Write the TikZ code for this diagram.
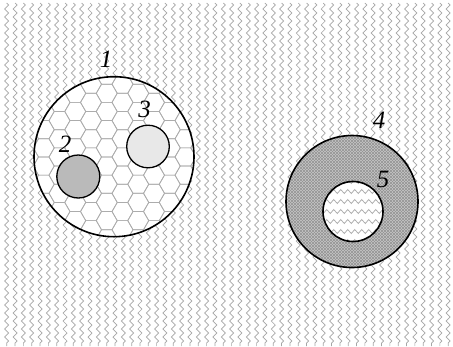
\documentclass[tikz,border=0pt]{standalone}
\usepackage{fontspec}
\setmainfont{Liberation Serif}
\usetikzlibrary{decorations.pathmorphing}
\begin{document}
\begin{tikzpicture}[x=1bp,y=-1bp,
  bgzig/.style={draw=gray!70, line width=0.7bp, decorate, decoration={zigzag, segment length=8bp, amplitude=2bp}},
  hzig/.style={draw=gray!70, line width=0.7bp, decorate, decoration={zigzag, segment length=7bp, amplitude=2bp}},
  hexline/.style={draw=gray!65, line width=0.7bp},
  hatch/.style={draw=gray!85, line width=0.5bp},
  lab/.style={font=\fontsize{25}{25}\selectfont\itshape, inner sep=0pt},
  rim/.style={draw=black, line width=1.6bp},
  smallrim/.style={draw=black, line width=1.3bp}]
\useasboundingbox (0,0) rectangle (453,346);
\fill[white] (0,0) rectangle (453,346);
% background zigzags
\foreach \i in {0,...,53}
  \draw[bgzig] ({6.7+8.33*\i},3) -- ({6.7+8.33*\i},346);
% circle 1 with honeycomb
\coordinate (c1) at (114,156.7);
\fill[white] (c1) circle[radius=80bp];
\begin{scope}
  \clip (c1) circle[radius=80bp];
  \foreach \i in {0,...,12}
    \foreach \j in {-1,...,11} {
      \pgfmathsetmacro\hx{28+15.75*\i}
      \pgfmathsetmacro\hy{66+18.19*\j+9.09*mod(\i,2)}
      \draw[hexline] (\hx,\hy) ++(10.5,0) -- ++(-5.25,9.09) -- ++(-10.5,0) -- ++(-5.25,-9.09) -- ++(5.25,-9.09) -- ++(10.5,0) -- cycle;
    }
\end{scope}
\draw[rim] (c1) circle[radius=80bp];
% circle 2 and 3
\node[circle, smallrim, fill=black!27, minimum size=43bp, inner sep=0pt] (c2) at (78.3,176.5) {};
\node[circle, smallrim, fill=black!9, minimum size=42.6bp, inner sep=0pt] (c3) at (148,146.5) {};
% ring 4
\coordinate (c4) at (352,201.5);
\coordinate (c5) at (353,211.5);
\fill[black!22, even odd rule] (c4) circle[radius=66bp] (c5) circle[radius=30bp];
\begin{scope}[even odd rule]
  \clip (c4) circle[radius=66bp] (c5) circle[radius=30bp];
  \foreach \k in {-50,...,50} {
    \draw[hatch] ({352+3*\k-80},121) -- ({352+3*\k+80},281);
    \draw[hatch] ({352+3*\k+80},121) -- ({352+3*\k-80},281);
  }
\end{scope}
\fill[white] (c5) circle[radius=30bp];
\begin{scope}
  \clip (c5) circle[radius=30bp];
  \foreach \r in {-3,...,3}
    \draw[hzig] (318,{211.5+10*\r}) -- (390,{211.5+10*\r});
\end{scope}
\draw[rim] (c4) circle[radius=66bp];
\draw[rim] (c5) circle[radius=30bp];
% labels
\node[lab] (l1) at (106,59) {1};
\node[lab] (l2) at (65,144) {2};
\node[lab] (l3) at (144.5,109.5) {3};
\node[lab] (l4) at (379,120) {4};
\node[lab] (l5) at (383,179.5) {5};
\end{tikzpicture}
\end{document}
